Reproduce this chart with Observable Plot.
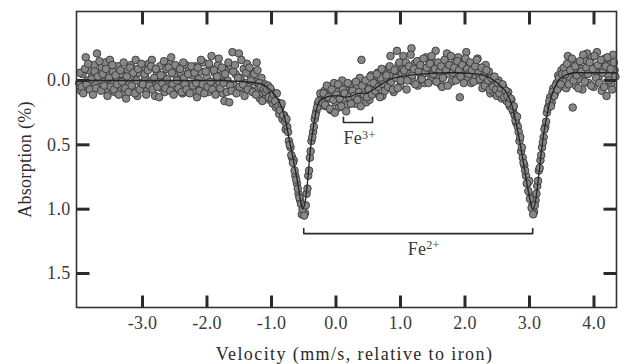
<!DOCTYPE html>
<html>
<head>
<meta charset="utf-8">
<script src="https://cdn.jsdelivr.net/npm/d3@7"></script>
<script src="https://cdn.jsdelivr.net/npm/@observablehq/plot@0.6"></script>
<style>
  html, body { margin: 0; padding: 0; background: #fff; }
  #chart { width: 623px; height: 364px; }
</style>
</head>
<body>
<div id="chart"></div>
<script>
// Velocity channel calibration (mm/s): two interleaved sweeps
const channelStart = -3.98;
const channelStep = 0.025;
const sweepOffset = 0.0125;

const absorptionA = [
  0.02,0.08,-0.05,0.04,-0.18,0.0,-0.08,0.06,-0.03,-0.12,
  0.03,-0.21,-0.06,0.05,-0.1,0.01,-0.14,0.07,-0.04,-0.16,
  0.02,-0.07,0.09,-0.02,-0.11,0.04,-0.05,0.1,0.0,0.14,
  -0.08,0.03,-0.12,0.06,-0.03,-0.16,0.12,-0.06,0.02,-0.1,
  0.05,-0.02,0.08,-0.13,0.01,-0.16,0.04,0.12,-0.07,0.0,
  -0.11,0.06,-0.04,0.09,-0.09,0.02,-0.13,-0.18,0.03,-0.05,
  0.07,-0.1,0.0,-0.06,0.1,-0.02,-0.12,0.05,-0.08,0.03,
  -0.04,0.08,-0.11,0.13,-0.01,-0.07,0.04,-0.14,0.06,-0.03,
  0.09,-0.1,-0.19,0.01,-0.06,0.05,-0.12,0.02,-0.04,0.1,
  0.16,-0.08,0.0,0.17,-0.11,-0.22,0.04,-0.05,0.07,-0.21,
  -0.02,0.06,-0.09,0.02,-0.13,0.05,-0.04,0.08,-0.07,0.01,
  -0.14,0.06,0.14,-0.02,0.1,0.03,
  0.12,0.04,0.15,0.08,0.18,0.1,0.21,0.17,0.26,0.2,0.3,0.27,0.38,0.36,0.47,
  0.52,0.6,0.62,0.74,0.8,0.88,0.93,1.04,0.98,1.03,0.88,0.74,0.6,0.47,0.4,0.3,0.24,0.18,0.2,0.12,
  0.16,0.08,0.2,0.05,0.14,0.23,0.1,0.02,0.17,0.09,
  0.21,0.12,0.0,0.15,0.06,0.19,0.11,0.03,0.16,0.08,
  0.18,0.05,0.12,-0.02,-0.16,0.03,0.14,0.17,0.06,0.15,
  -0.04,0.07,0.01,0.1,-0.06,0.04,-0.02,0.12,-0.08,0.06,
  0.0,-0.1,-0.19,-0.04,0.09,-0.07,-0.23,-0.12,0.04,-0.05,
  -0.19,-0.03,0.07,-0.1,-0.05,-0.25,0.01,-0.13,-0.07,0.04,
  -0.15,-0.02,-0.09,0.02,-0.18,-0.06,-0.12,0.0,-0.08,-0.14,
  -0.23,-0.04,-0.11,0.03,0.05,-0.09,-0.16,-0.21,-0.05,-0.12,
  0.01,-0.08,-0.14,-0.03,-0.18,0.13,-0.1,-0.06,-0.15,-0.22,
  -0.02,-0.11,0.02,-0.07,-0.13,-0.04,-0.17,0.0,-0.09,0.06,
  -0.05,-0.12,0.03,-0.07,0.1,
  -0.02,0.09,0.03,0.12,0.0,0.08,0.14,0.05,0.11,0.16,
  0.09,0.2,0.15,0.24,0.27,0.33,0.36,0.47,0.55,0.6,
  0.66,0.74,0.8,0.78,0.9,0.97,1.02,0.93,0.82,0.7,
  0.62,0.52,0.44,0.36,0.25,0.2,0.13,0.17,0.06,0.1,
  0.02,-0.04,0.05,-0.08,0.01,
  -0.1,0.06,-0.19,-0.03,-0.12,0.21,-0.06,0.04,-0.14,-0.01,
  -0.09,0.07,-0.16,-0.05,-0.21,0.02,-0.11,-0.18,0.05,-0.07,
  -0.22,-0.02,-0.13,0.08,-0.09,-0.17,0.12,-0.04,-0.12,0.03,
  -0.2,-0.08
];

// Sweep B (channels offset by half a step)
const absorptionB = [
  -0.06,0.05,0.1,-0.09,0.03,-0.13,0.07,-0.01,0.11,-0.07,
  0.06,-0.03,-0.15,0.08,-0.05,0.04,-0.09,0.12,-0.02,0.05,
  -0.12,0.07,-0.04,0.03,0.11,-0.08,0.01,-0.14,0.06,-0.03,
  0.09,-0.1,0.04,-0.06,0.1,0.0,-0.09,0.07,-0.13,0.03,
  -0.05,0.11,-0.08,0.04,-0.11,0.07,-0.02,-0.09,0.05,0.13,
  -0.04,0.02,-0.15,0.06,-0.01,-0.1,0.08,-0.06,0.11,-0.12,
  0.0,0.06,-0.09,0.09,-0.14,0.03,0.07,-0.05,0.1,-0.11,
  0.04,-0.06,0.02,-0.1,0.08,-0.16,0.03,0.1,-0.07,0.05,
  -0.13,0.01,0.07,-0.08,0.11,-0.03,-0.17,0.06,-0.1,0.02,
  -0.05,0.09,-0.14,0.04,0.08,-0.07,-0.12,0.1,-0.02,0.05,
  -0.16,0.03,0.12,-0.06,0.07,-0.1,0.0,0.09,-0.05,0.11,
  -0.08,0.02,0.05,0.16,0.07,0.09,
  0.07,0.13,0.06,0.14,0.11,0.16,0.1,0.2,0.23,0.18,0.27,0.32,0.3,0.4,0.5,
  0.58,0.64,0.7,0.77,0.84,0.91,0.96,1.0,1.05,0.97,0.84,0.7,0.55,0.44,0.36,0.27,0.21,0.16,0.1,0.17,
  0.1,0.19,0.04,0.13,0.22,0.07,0.15,0.25,0.11,0.03,
  0.14,0.2,0.07,0.1,0.24,0.02,0.13,0.18,0.08,0.12,
  0.01,0.15,0.09,0.2,0.04,0.11,0.0,0.13,0.07,-0.03,
  0.11,0.02,0.08,-0.05,0.05,0.13,-0.09,0.03,0.08,-0.04,
  0.05,-0.11,0.01,0.07,-0.08,-0.02,0.06,-0.14,0.0,-0.09,
  -0.08,-0.14,0.0,-0.11,-0.2,-0.04,-0.09,0.03,-0.15,-0.07,
  -0.12,-0.01,-0.17,-0.06,-0.1,0.02,-0.13,-0.19,-0.05,-0.09,
  0.01,-0.14,-0.07,-0.11,-0.02,-0.16,-0.08,0.04,-0.12,-0.19,
  -0.06,-0.1,0.0,-0.15,-0.08,-0.03,-0.12,0.02,-0.17,-0.09,
  -0.05,-0.14,-0.08,0.01,-0.11,-0.16,-0.06,-0.01,-0.1,-0.03,
  0.04,-0.08,0.0,0.07,-0.02,
  0.05,-0.03,0.07,0.02,0.1,0.06,0.03,0.13,0.08,0.12,
  0.18,0.14,0.22,0.2,0.31,0.28,0.4,0.44,0.52,0.64,
  0.7,0.8,0.86,0.92,0.99,1.04,0.97,0.88,0.78,0.68,
  0.58,0.48,0.38,0.32,0.22,0.16,0.2,0.09,0.12,0.04,
  0.07,-0.02,0.03,-0.05,-0.1,
  -0.05,-0.13,0.03,-0.08,-0.17,0.0,-0.11,-0.04,0.06,-0.15,
  -0.07,-0.2,0.01,-0.1,-0.05,-0.14,0.04,-0.09,-0.19,-0.02,
  -0.12,0.02,-0.16,-0.06,0.05,-0.11,-0.18,0.0,-0.09,0.07,
  -0.14,-0.03
];

// Fitted curve
const fitVelocity = [-4.02,-3.0,-2.0,-1.4,-1.15,-1.05,-0.95,-0.85,-0.78,-0.72,-0.66,-0.6,-0.56,-0.52,-0.48,-0.44,-0.4,-0.35,-0.3,-0.25,-0.15,-0.05,0.05,0.15,0.25,0.35,0.45,0.55,0.7,0.85,1.0,1.3,1.8,2.2,2.35,2.45,2.55,2.65,2.72,2.78,2.84,2.9,2.96,3.01,3.05,3.09,3.13,3.17,3.21,3.26,3.31,3.37,3.45,3.55,3.7,4.0,4.35];
const fitAbsorption = [0.0,0.0,0.0,0.01,0.03,0.06,0.11,0.2,0.32,0.47,0.62,0.78,0.9,1.0,0.95,0.78,0.55,0.36,0.22,0.16,0.13,0.12,0.12,0.13,0.12,0.1,0.1,0.08,0.03,-0.01,-0.03,-0.05,-0.06,-0.05,-0.03,0.0,0.04,0.1,0.18,0.3,0.45,0.62,0.8,0.93,1.0,0.95,0.8,0.62,0.45,0.3,0.18,0.08,0.0,-0.04,-0.06,-0.06,-0.06];

// Doublet markers
const ionNames = ["Fe^2+", "Fe^3+"];
const ionStart = [-0.50, 0.116];
const ionEnd = [3.05, 0.566];
const ionLevel = [1.19, 0.326];
const ionLabelX = [1.36, 0.116];
const ionLabelY = [1.31, 0.45];
const ionAnchor = ["middle", "start"];

// Axis ticks and titles
const xTicks = [-3, -2, -1, 0, 1, 2, 3, 4];
const yTicks = [0, 0.5, 1.0, 1.5];
const xTitle = "Velocity (mm/s, relative to iron)";
const yTitle = "Absorption (%)";

// scale domains
const xDomain = [-4.023, 4.349];
const yDomain = [-0.536, 1.764];

const points = [
  ...absorptionA.map((a, i) => ({v: channelStart + i * channelStep, a})),
  ...absorptionB.map((a, i) => ({v: channelStart + sweepOffset + i * channelStep, a}))
];
const fit = fitVelocity.map((v, i) => ({v, a: fitAbsorption[i]}));
const ions = ionNames.map((name, i) => ({name, x1: ionStart[i], x2: ionEnd[i], y: ionLevel[i], lx: ionLabelX[i], ly: ionLabelY[i], anchor: ionAnchor[i]}));
const bracketPaths = ions.map(d => [
  {v: d.x1, a: d.y - 0.04}, {v: d.x1, a: d.y}, {v: d.x2, a: d.y}, {v: d.x2, a: d.y - 0.04}
]);

const fmt = d => d.toFixed(1);
const ink = "#333";
// frame geometry (px)
const W = 623, H = 364, ML = 76, MR = 7, MT = 11, MB = 57;
const frameW = W - ML - MR, frameH = H - MT - MB;
// inward tick lengths converted to data units
const xPerPx = (xDomain[1] - xDomain[0]) / frameW;
const yPerPx = (yDomain[1] - yDomain[0]) / frameH;
const tickBottom = xTicks.map(v => ({x: v, y1: yDomain[1], y2: yDomain[1] - 12 * yPerPx}));
const tickTop = xTicks.map(v => ({x: v, y1: yDomain[0], y2: yDomain[0] + 13 * yPerPx}));
const tickLeft = yTicks.map(v => ({y: v, x1: xDomain[0], x2: xDomain[0] + 13 * xPerPx}));
const tickRight = yTicks.map(v => ({y: v, x1: xDomain[1], x2: xDomain[1] - 13 * xPerPx}));

const chart = Plot.plot({
  width: W,
  height: H,
  marginLeft: ML,
  marginRight: MR,
  marginTop: MT,
  marginBottom: MB,
  x: {domain: xDomain},
  y: {domain: yDomain, reverse: true},
  style: {fontFamily: "'Liberation Serif', 'Times New Roman', serif", fontSize: "18px", color: "#3a3a3a", background: "#fff", letterSpacing: "0.3px"},
  marks: [
    Plot.dot(points, {x: "v", y: "a", r: 3.8, fill: "#878787", stroke: "#383838", strokeWidth: 0.9}),
    Plot.line(fit, {x: "v", y: "a", stroke: "#222", strokeWidth: 1.3, curve: "monotone-x"}),
    ...bracketPaths.map(p => Plot.line(p, {x: "v", y: "a", stroke: "#2a2a2a", strokeWidth: 1.6})),
    Plot.text(ions.filter(d => d.anchor === "middle"), {x: "lx", y: "ly", text: "name", textAnchor: "middle", fill: "#3a3a3a", className: "ion"}),
    Plot.text(ions.filter(d => d.anchor === "start"), {x: "lx", y: "ly", text: "name", textAnchor: "start", fill: "#3a3a3a", className: "ion"}),
    Plot.frame({stroke: ink, strokeWidth: 1.6}),
    // inward ticks, drawn thick enough to survive rendering
    Plot.link(tickBottom, {x1: "x", x2: "x", y1: "y1", y2: "y2", stroke: "#2a2a2a", strokeWidth: 3}),
    Plot.link(tickTop, {x1: "x", x2: "x", y1: "y1", y2: "y2", stroke: "#2a2a2a", strokeWidth: 3}),
    Plot.link(tickLeft, {x1: "x1", x2: "x2", y1: "y", y2: "y", stroke: "#2a2a2a", strokeWidth: 3}),
    Plot.link(tickRight, {x1: "x1", x2: "x2", y1: "y", y2: "y", stroke: "#2a2a2a", strokeWidth: 3}),
    // tick labels
    Plot.axisX(xTicks, {anchor: "bottom", tickSize: 0, tickPadding: 9, tickFormat: fmt, label: null}),
    Plot.axisY(yTicks, {anchor: "left", tickSize: 0, tickPadding: 6, tickFormat: fmt, label: null}),
    // axis titles
    Plot.text([xTitle], {frameAnchor: "bottom", textAnchor: "middle", lineAnchor: "middle", dy: 47, dx: 8, text: d => d, fill: "#2a2a2a", fontSize: 18, className: "xtitle"}),
    Plot.text([yTitle], {frameAnchor: "left", textAnchor: "middle", lineAnchor: "middle", dx: -51, text: d => d, rotate: -90, fill: "#2a2a2a", fontSize: 18})
  ]
});

document.getElementById("chart").appendChild(chart);
d3.select(chart).selectAll("g.xtitle text").style("letter-spacing", "1.4px");

// superscripts for ion labels
d3.select(chart).selectAll("g.ion text").each(function () {
  const parts = this.textContent.split("^");
  if (parts.length < 2) return;
  const t = d3.select(this);
  t.text(null);
  t.append("tspan").text(parts[0]);
  t.append("tspan").attr("dy", "-0.45em").attr("font-size", "12px").text(parts[1]);
});
</script>
</body>
</html>
